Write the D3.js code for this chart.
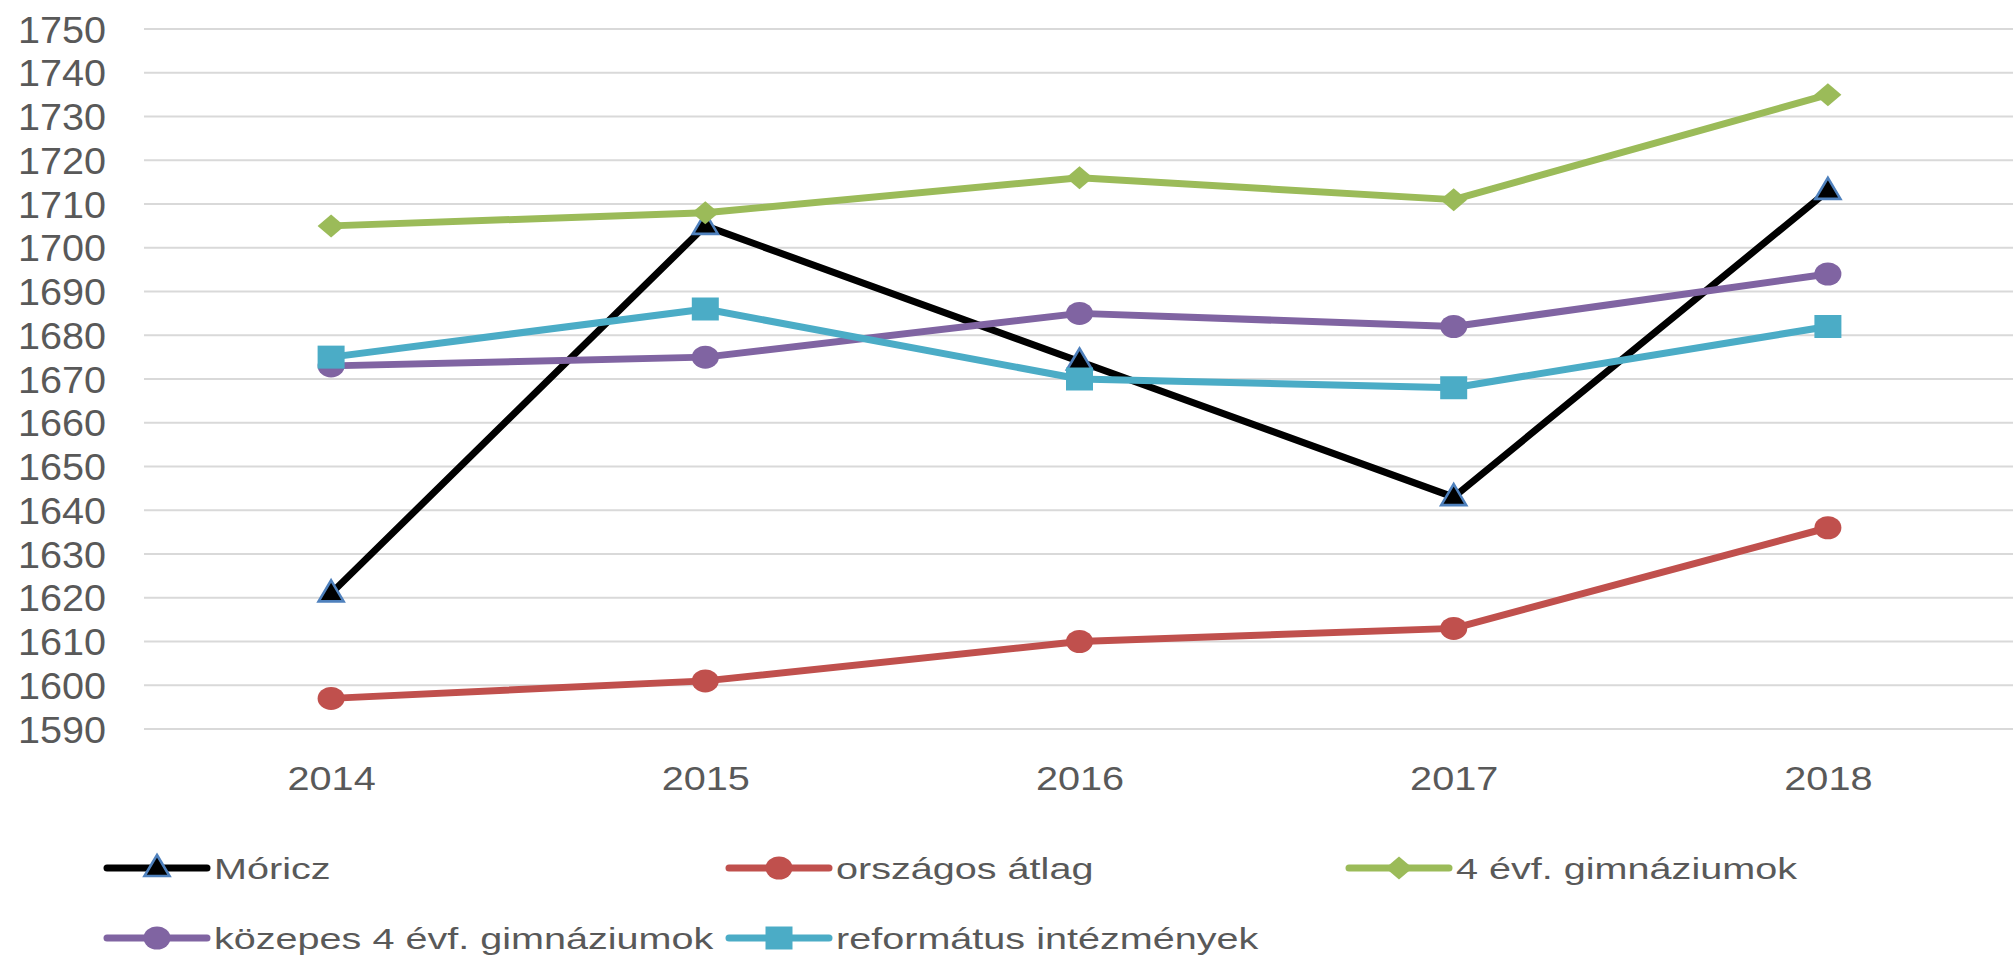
<!DOCTYPE html>
<html>
<head>
<meta charset="utf-8">
<script src="https://cdn.jsdelivr.net/npm/d3@7"></script>
<style>
  html, body { margin: 0; padding: 0; background: #fff; }
  svg { display: block; }
  text { font-family: "Liberation Sans", Arial, sans-serif; fill: #595959; }
</style>
</head>
<body>
<svg id="chart" width="2013" height="960"></svg>
<script>
// ---- data ----
const years = ["2014", "2015", "2016", "2017", "2018"];
const yTickValues = [1590, 1600, 1610, 1620, 1630, 1640, 1650, 1660, 1670, 1680, 1690, 1700, 1710, 1720, 1730, 1740, 1750];
const seriesNames = ["Móricz", "országos átlag", "4 évf. gimnáziumok", "közepes 4 évf. gimnáziumok", "református intézmények"];
const moricz     = [1621, 1705, 1674, 1643, 1713];
const orszagos   = [1597, 1601, 1610, 1613, 1636];
const evf4       = [1705, 1708, 1716, 1711, 1735];
const kozepes    = [1673, 1675, 1685, 1682, 1694];
const reformatus = [1675, 1686, 1670, 1668, 1682];

// ---- styles ----
const seriesValues = [moricz, orszagos, evf4, kozepes, reformatus];
const lineColors   = ["#000000", "#c0504d", "#9bbb59", "#8064a2", "#4bacc6"];
const markerTypes  = ["triangle", "circle", "diamond", "circle", "square"];

const svg = d3.select("#chart");
const W = 2013, H = 960;
const plot = { left: 144, right: 2015, top: 29, bottom: 729 };

const x = d3.scalePoint().domain(years).range([plot.left, plot.right]).padding(0.5);
const y = d3.scaleLinear().domain([1590, 1750]).range([plot.bottom, plot.top]);

// gridlines
svg.append("g").selectAll("line").data(yTickValues).join("line")
  .attr("x1", plot.left).attr("x2", W)
  .attr("y1", d => y(d)).attr("y2", d => y(d))
  .attr("stroke", "#d9d9d9").attr("stroke-width", 2);

// y axis labels
const yAxis = d3.axisLeft(y).tickValues(yTickValues).tickFormat(d3.format("d")).tickSize(0).tickPadding(0);
const yg = svg.append("g").attr("transform", `translate(106,0)`).call(yAxis);
yg.select(".domain").remove();
yg.selectAll(".tick text")
  .attr("x", 0).attr("dy", null).attr("y", 0)
  .attr("dominant-baseline", "central")
  .style("font-size", "37px")
  .style("font-family", "'Liberation Sans', Arial, sans-serif")
  .attr("fill", "#595959")
  .attr("transform", "scale(1.07,1)");

// x axis labels
const xAxis = d3.axisBottom(x).tickSize(0).tickPadding(0);
const xg = svg.append("g").attr("transform", `translate(0,779)`).call(xAxis);
xg.select(".domain").remove();
xg.selectAll(".tick text")
  .attr("y", 0).attr("dy", null)
  .attr("dominant-baseline", "central")
  .style("font-size", "32.5px")
  .style("font-family", "'Liberation Sans', Arial, sans-serif")
  .attr("fill", "#595959")
  .attr("transform", "scale(1.22,1)");

// marker shapes (local glyph outlines)
function markerPath(type) {
  if (type === "triangle") return "M0,-13L12.5,8L-12.5,8Z";
  if (type === "diamond") return "M0,-11.5L13.5,0L0,11.5L-13.5,0Z";
  if (type === "square") return "M-13.5,-11.5H13.5V11.5H-13.5Z";
  return null;
}
function drawMarker(g, type, color) {
  if (type === "circle") {
    g.append("ellipse").attr("rx", 13.5).attr("ry", 11.5).attr("fill", color);
  } else if (type === "triangle") {
    g.append("path").attr("d", markerPath(type)).attr("fill", "#000")
      .attr("stroke", "#4f81bd").attr("stroke-width", 2.6).attr("stroke-linejoin", "miter");
  } else {
    g.append("path").attr("d", markerPath(type)).attr("fill", color);
  }
}

const line = d3.line().x(d => x(d.year)).y(d => y(d.value));

seriesValues.forEach((vals, i) => {
  const pts = years.map((yr, j) => ({ year: yr, value: vals[j] }));
  const g = svg.append("g");
  g.append("path").datum(pts).attr("d", line)
    .attr("fill", "none").attr("stroke", lineColors[i])
    .attr("stroke-width", 7).attr("stroke-linejoin", "round").attr("stroke-linecap", "round");
  pts.forEach(p => {
    const mg = g.append("g").attr("transform", `translate(${x(p.year)},${y(p.value)})`);
    drawMarker(mg, markerTypes[i], lineColors[i]);
  });
});

// legend
const legCols = [107, 729, 1349];
const legRows = [868, 938];
seriesNames.forEach((name, i) => {
  const lg = svg.append("g")
    .attr("transform", `translate(${legCols[i % 3]},${legRows[Math.floor(i / 3)]})`);
  lg.append("line").attr("x1", 0).attr("x2", 100).attr("y1", 0).attr("y2", 0)
    .attr("stroke", lineColors[i]).attr("stroke-width", 7).attr("stroke-linecap", "round");
  const mg = lg.append("g").attr("transform", "translate(50,0)");
  drawMarker(mg, markerTypes[i], lineColors[i]);
  lg.append("text")
    .attr("transform", "translate(107,0) scale(1.32,1)")
    .attr("dominant-baseline", "central")
    .style("font-size", "30px")
    .text(name);
});
</script>
</body>
</html>
